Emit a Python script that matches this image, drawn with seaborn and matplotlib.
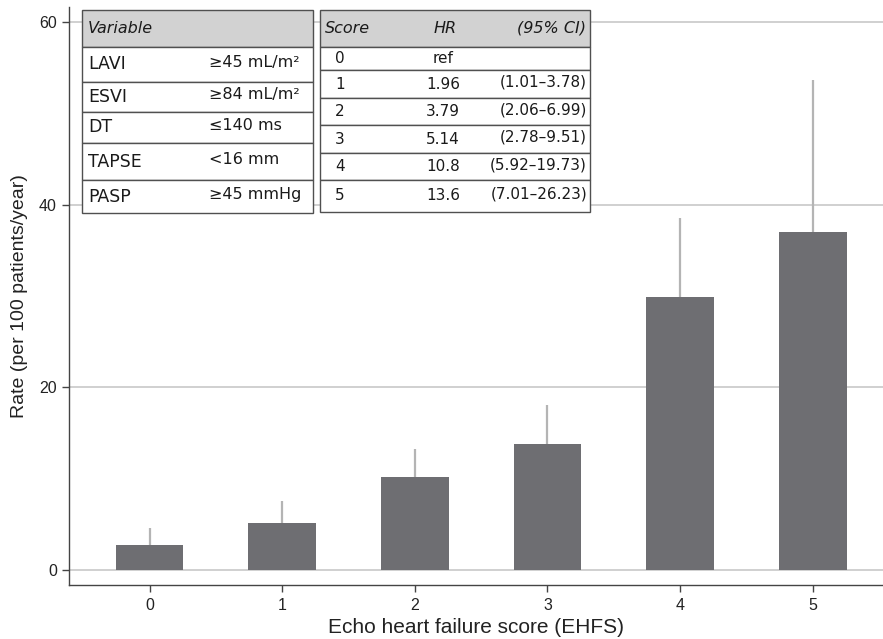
import matplotlib
matplotlib.use("Agg")
import matplotlib.pyplot as plt
from matplotlib.patches import Rectangle
import seaborn as sns
import pandas as pd

# ---- data ----
scores = ["0", "1", "2", "3", "4", "5"]
rates = [2.7, 5.2, 10.2, 13.8, 29.9, 37.0]
upper_ci = [4.6, 7.6, 13.2, 18.1, 38.5, 53.6]

var_names = ["LAVI", "ESVI", "DT", "TAPSE", "PASP"]
var_cuts = ["≥45 mL/m²", "≥84 mL/m²", "≤140 ms", "<16 mm", "≥45 mmHg"]

hr_scores = ["0", "1", "2", "3", "4", "5"]
hr_values = ["ref", "1.96", "3.79", "5.14", "10.8", "13.6"]
hr_ci = ["", "(1.01–3.78)", "(2.06–6.99)", "(2.78–9.51)", "(5.92–19.73)", "(7.01–26.23)"]

yticks = [0, 20, 40, 60]
xlabel = "Echo heart failure score (EHFS)"
ylabel = "Rate (per 100 patients/year)"

# ---- style ----
sns.set_style("white")
plt.rcParams["font.family"] = ["Liberation Sans", "DejaVu Sans"]

W, H = 883, 639
fig = plt.figure(figsize=(W / 100, H / 100), dpi=100)
ax = fig.add_axes([69.3 / W, 1 - 585.3 / H, 1 - 69.3 / W, (585.3 - 6.7) / H])

df = pd.DataFrame({"score": scores, "rate": rates})
sns.barplot(data=df, x="score", y="rate", color="#6e6e72", saturation=1,
            width=0.51, errorbar=None, ax=ax, zorder=3, linewidth=0)
pos = list(range(len(scores)))
ax.vlines(pos, rates, upper_ci, color="#b4b4b4", lw=1.6, zorder=2)

ax.set_xlim(-0.605, 5.53)
ax.set_ylim(-1.67, 61.67)
ax.set_yticks(yticks)
ax.set_yticklabels([str(t) for t in yticks])
for t in yticks:
    ax.axhline(t, color="#c4c4c4", lw=1.1, zorder=1)

for s in ["top", "right"]:
    ax.spines[s].set_visible(False)
for s in ["left", "bottom"]:
    ax.spines[s].set_color("#444444")
    ax.spines[s].set_linewidth(1.0)
ax.tick_params(axis="both", direction="out", length=5, width=1, color="#444444",
               labelsize=11.5, labelcolor="#222222", pad=4)
ax.tick_params(axis="y", left=True)
ax.tick_params(axis="x", bottom=True)
ax.set_xlabel(xlabel, fontsize=15, color="#222222", labelpad=4)
ax.set_ylabel(ylabel, fontsize=14, color="#222222", labelpad=8)


# ---- tables (pixel layout helpers) ----
def fx(x):
    return x / W


def fy(y):
    return 1 - y / H


def rect(x0, y0, x1, y1, fc):
    fig.patches.append(Rectangle((fx(x0), fy(y1)), fx(x1) - fx(x0), fy(y0) - fy(y1),
                                 transform=fig.transFigure, facecolor=fc,
                                 edgecolor="#505050", lw=1.0, zorder=5))


def txt(x, y, s, ha="left", size=9.5, style="normal"):
    fig.text(fx(x), fy(y), s, ha=ha, va="center", fontsize=size,
             style=style, color="#1a1a1a", zorder=6, family="DejaVu Sans")


# table 1
t1_rows = [10, 46.7, 81.7, 111.7, 143.3, 180, 213.3]
t1_x0, t1_x1 = 81.7, 313
rect(t1_x0, t1_rows[0], t1_x1, t1_rows[1], "#d2d2d2")
txt(88, (t1_rows[0] + t1_rows[1]) / 2, "Variable", size=11.5, style="italic")
for i, (n, c) in enumerate(zip(var_names, var_cuts)):
    y0, y1 = t1_rows[i + 1], t1_rows[i + 2]
    rect(t1_x0, y0, t1_x1, y1, "white")
    yc = (y0 + y1) / 2
    txt(88, yc, n, size=12.5)
    txt(209, yc - 2, c, size=11.5)

# table 2
t2_rows = [10, 46.7, 70, 98.3, 125, 153, 180, 212]
t2_x0, t2_x1 = 320, 590
rect(t2_x0, t2_rows[0], t2_x1, t2_rows[1], "#d2d2d2")
yh = (t2_rows[0] + t2_rows[1]) / 2
txt(325, yh, "Score", size=11.5, style="italic")
txt(457, yh, "HR", ha="right", size=11.5, style="italic")
txt(586, yh, "(95% CI)", ha="right", size=11.5, style="italic")
for i in range(len(hr_scores)):
    y0, y1 = t2_rows[i + 1], t2_rows[i + 2]
    rect(t2_x0, y0, t2_x1, y1, "white")
    yc = (y0 + y1) / 2
    txt(340, yc, hr_scores[i], ha="center", size=11)
    txt(443, yc, hr_values[i], ha="center", size=11)
    if hr_ci[i]:
        txt(587, yc - 2, hr_ci[i], ha="right", size=11)

fig.savefig("out.png", dpi=100)
